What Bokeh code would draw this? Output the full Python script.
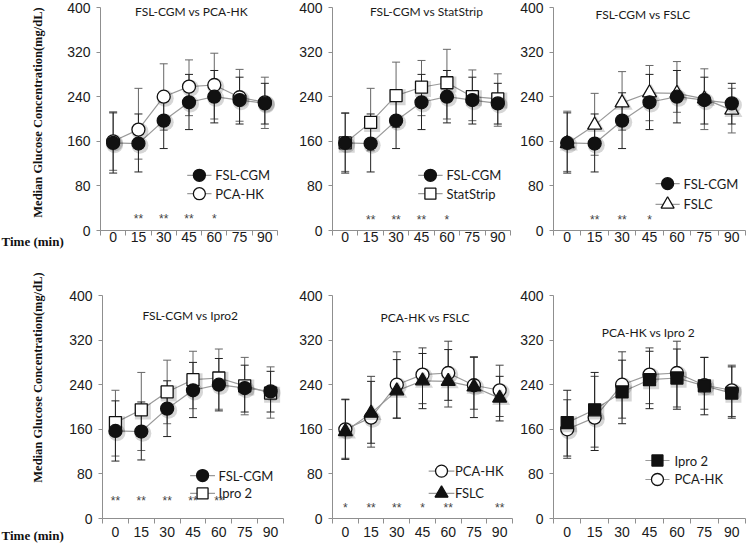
import numpy as np
from bokeh.plotting import figure
from bokeh.models import Range1d, FixedTicker, Whisker, TeeHead, ColumnDataSource, Label
from bokeh.layouts import column, row
from bokeh.embed import file_html
from bokeh.resources import INLINE
from bokeh.core.properties import value

# ---------------- data ----------------
times = ["0", "15", "30", "45", "60", "75", "90"]
y_ticks = [0, 80, 160, 240, 320, 400]

fsl_cgm = [157, 156, 197, 230, 240, 234, 228]
fsl_cgm_lo = [103, 105, 147, 181, 193, 191, 191]
fsl_cgm_hi = [211, 209, 247, 280, 287, 275, 264]

pca_hk = [160, 181, 240, 258, 261, 239, 230]
pca_hk_lo = [108, 128, 180, 206, 200, 196, 183]
pca_hk_hi = [213, 255, 299, 306, 318, 289, 275]

statstrip = [157, 194, 242, 257, 265, 240, 236]
statstrip_lo = [106, 143, 185, 206, 200, 197, 187]
statstrip_hi = [210, 255, 302, 305, 325, 288, 281]

fslc = [156, 189, 229, 247, 246, 236, 216]
fslc_lo = [106, 135, 180, 197, 212, 181, 175]
fslc_hi = [214, 246, 285, 296, 303, 290, 255]

ipro2 = [172, 195, 227, 249, 252, 238, 225]
ipro2_lo = [112, 122, 170, 197, 196, 186, 180]
ipro2_hi = [230, 262, 284, 300, 304, 289, 272]

stars_p1 = ["", "**", "**", "**", "*", "", ""]
stars_p2 = ["", "**", "**", "**", "*", "", ""]
stars_p3 = ["", "**", "**", "*", "", "", ""]
stars_p4 = ["**", "**", "**", "**", "**", "", ""]
stars_p5 = ["*", "**", "**", "*", "**", "", "**"]
stars_p6 = ["", "", "", "", "", "", ""]

SERIES = {
    "FSL-CGM": (fsl_cgm, fsl_cgm_lo, fsl_cgm_hi),
    "PCA-HK": (pca_hk, pca_hk_lo, pca_hk_hi),
    "StatStrip": (statstrip, statstrip_lo, statstrip_hi),
    "FSLC": (fslc, fslc_lo, fslc_hi),
    "Ipro 2": (ipro2, ipro2_lo, ipro2_hi),
}

# ---------------- style ----------------
AX = "#8f8f8f"
LINE = "#9a9a9a"
DARK = "#111111"
TICK_FONT = "Liberation Sans"
TXT_FONT = "Lato"
SERIF = "Liberation Serif"
YLAB = "Median Glucose Concentration(mg/dL)"
XLAB = "Time (min)"

SIZES = {"circle": 13, "square": 12, "triangle": 14}

xc = np.arange(len(times)) + 0.5


def no_align(p):
    try:
        p.frame_align = False
    except Exception:
        pass


def make_fig(w, h, bl, br, bt, bb, xstand):
    p = figure(width=w, height=h, x_range=Range1d(0, len(times)), y_range=Range1d(0, 400),
               output_backend="svg", toolbar_location=None,
               min_border_left=bl, min_border_right=br, min_border_top=bt, min_border_bottom=bb)
    no_align(p)
    p.outline_line_color = None
    p.xgrid.grid_line_color = None
    p.ygrid.grid_line_color = None
    xa = p.xaxis[0]
    ya = p.yaxis[0]
    xa.ticker = FixedTicker(ticks=list(xc), minor_ticks=list(range(len(times) + 1)))
    xa.major_label_overrides = {float(x): t for x, t in zip(xc, times)}
    xa.major_tick_out = 0
    xa.major_tick_in = 0
    xa.minor_tick_out = 5
    xa.minor_tick_in = 0
    xa.minor_tick_line_color = AX
    xa.major_label_standoff = xstand
    ya.ticker = FixedTicker(ticks=y_ticks, minor_ticks=[])
    ya.major_tick_out = 4
    ya.major_tick_in = 0
    ya.minor_tick_line_color = None
    ya.major_label_standoff = 6
    for ax in (xa, ya):
        ax.axis_line_color = AX
        ax.major_tick_line_color = AX
        ax.major_label_text_font = TICK_FONT
        ax.major_label_text_font_size = "14px"
        ax.major_label_text_color = "#1a1a1a"
    return p


def make_pad(h, ylab_y, time_y):
    p = figure(width=64, height=h, x_range=Range1d(0, 64), y_range=Range1d(0, h),
               x_axis_type=None, y_axis_type=None, output_backend="svg",
               toolbar_location=None, min_border_left=0, min_border_right=0,
               min_border_top=0, min_border_bottom=0)
    no_align(p)
    p.outline_line_color = None
    p.grid.visible = False
    p.text(x=[37], y=[ylab_y], text=[YLAB], angle=np.pi / 2, text_align="center",
           text_baseline="middle", text_font=value(SERIF), text_font_style="bold",
           text_font_size="12.5px", text_color="#111111")
    p.text(x=[1], y=[time_y], text=[XLAB], text_align="left", text_baseline="middle",
           text_font=value(SERIF), text_font_style="bold", text_font_size="13px",
           text_color="#111111")
    return p


def draw_panel(p, cfg):
    srcs = []
    for name, marker, fill, bar in cfg["series"]:
        vals, lo, hi = SERIES[name]
        src = ColumnDataSource(dict(x=xc, y=vals, lo=lo, hi=hi,
                                    xs=xc + 0.06, ys=np.array(vals) - 3.0))
        srcs.append((src, marker, fill, bar))
        w = Whisker(source=src, base="x", upper="hi", lower="lo", dimension="height",
                    level="underlay", line_color=bar, line_width=1,
                    upper_head=TeeHead(size=8, line_color=bar, line_width=1),
                    lower_head=TeeHead(size=8, line_color=bar, line_width=1))
        p.add_layout(w)
    for src, marker, fill, bar in srcs:
        p.line("x", "y", source=src, line_color=LINE, line_width=1.2)
    for src, marker, fill, bar in srcs:
        s = SIZES[marker]
        p.scatter("xs", "ys", source=src, marker=marker, size=s + 4,
                  fill_color="black", fill_alpha=0.16, line_color=None)
        p.scatter("x", "y", source=src, marker=marker, size=s,
                  fill_color=fill, line_color=DARK, line_width=1.3)
    # significance stars
    sy = [cfg["star_y"]] * len(times)
    p.text(x=xc, y=sy, text=cfg["stars"], text_align="center", text_baseline="middle",
           text_font=value(TICK_FONT), text_font_size="12px", text_color="#444444")
    # title
    tx, ty = cfg["title_xy"]
    p.add_layout(Label(x=tx, y=ty, text=cfg["title"], text_align="center",
                       text_baseline="middle", text_font=TXT_FONT, text_font_size="12px",
                       text_color="#1a1a1a"))
    # legend (manual, Excel style)
    mx = cfg["leg_x"]
    half = cfg["leg_half"]
    for (name, marker, fill), ly in zip(cfg["legend"], cfg["leg_y"]):
        p.line(x=[mx - half, mx + half], y=[ly, ly], line_color=LINE, line_width=1.2)
        p.scatter(x=[mx], y=[ly], marker=marker, size=SIZES[marker] - 1,
                  fill_color=fill, line_color=DARK, line_width=1.3)
        p.add_layout(Label(x=mx + cfg["leg_off"], y=ly, text=name, text_align="left",
                           text_baseline="middle", text_font=TXT_FONT,
                           text_font_size="13px", text_color="#1a1a1a"))


FC = ("FSL-CGM", "circle", DARK, "#222222")
PCA_O = ("PCA-HK", "circle", "white", "#666666")
PCA_O2 = ("PCA-HK", "circle", "white", "#444444")
SS_O = ("StatStrip", "square", "white", "#666666")
FSLC_O = ("FSLC", "triangle", "white", "#666666")
FSLC_F = ("FSLC", "triangle", DARK, "#222222")
IP_O = ("Ipro 2", "square", "white", "#666666")
IP_F = ("Ipro 2", "square", DARK, "#222222")

panels = [
    dict(title="FSL-CGM vs PCA-HK", title_xy=(3.6, 393), series=[PCA_O, FC],
         legend=[FC[:3], PCA_O[:3]], leg_x=3.91, leg_y=[99, 66], leg_half=0.48, leg_off=0.63,
         stars=stars_p1, star_y=20),
    dict(title="FSL-CGM vs StatStrip", title_xy=(3.7, 393), series=[SS_O, FC],
         legend=[FC[:3], SS_O[:3]], leg_x=3.85, leg_y=[99, 66], leg_half=0.48, leg_off=0.63,
         stars=stars_p2, star_y=19),
    dict(title="FSL-CGM vs  FSLC", title_xy=(3.32, 387), series=[FSLC_O, FC],
         legend=[FC[:3], FSLC_O[:3]], leg_x=4.16, leg_y=[84, 47], leg_half=0.44, leg_off=0.58,
         stars=stars_p3, star_y=18),
    dict(title="FSL-CGM vs Ipro2", title_xy=(3.4, 364), series=[IP_O, FC],
         legend=[FC[:3], IP_O[:3]], leg_x=3.87, leg_y=[77, 45], leg_half=0.48, leg_off=0.62,
         stars=stars_p4, star_y=31),
    dict(title="PCA-HK vs  FSLC", title_xy=(3.66, 360), series=[PCA_O2, FSLC_F],
         legend=[PCA_O2[:3], FSLC_F[:3]], leg_x=4.24, leg_y=[85, 45], leg_half=0.5, leg_off=0.52,
         stars=stars_p5, star_y=19),
    dict(title="PCA-HK vs Ipro 2", title_xy=(3.46, 334), series=[PCA_O2, IP_F],
         legend=[IP_F[:3], PCA_O2[:3]], leg_x=3.79, leg_y=[104, 70], leg_half=0.44, leg_off=0.62,
         stars=stars_p6, star_y=20),
]

# top row: height 262 (top 7, frame 223, bottom 32)
pad1 = make_pad(262, 150, 21)
p1 = make_fig(228, 262, 34, 15, 7, 32, -4)
p2 = make_fig(221, 262, 40, 3, 7, 32, -4)
p3 = make_fig(235, 262, 40, 3, 7, 32, -4)
# bottom row: height 281 (top 33, frame 223, bottom 25)
pad2 = make_pad(281, 166, 8)
p4 = make_fig(228, 281, 38, 9, 33, 25, 3)
p5 = make_fig(221, 281, 40, 1, 33, 25, 3)
p6 = make_fig(235, 281, 40, 3, 33, 25, 3)

for p, cfg in zip([p1, p2, p3, p4, p5, p6], panels):
    draw_panel(p, cfg)

layout = column(row(pad1, p1, p2, p3), row(pad2, p4, p5, p6))

open("out.html", "w").write(file_html(layout, INLINE))
